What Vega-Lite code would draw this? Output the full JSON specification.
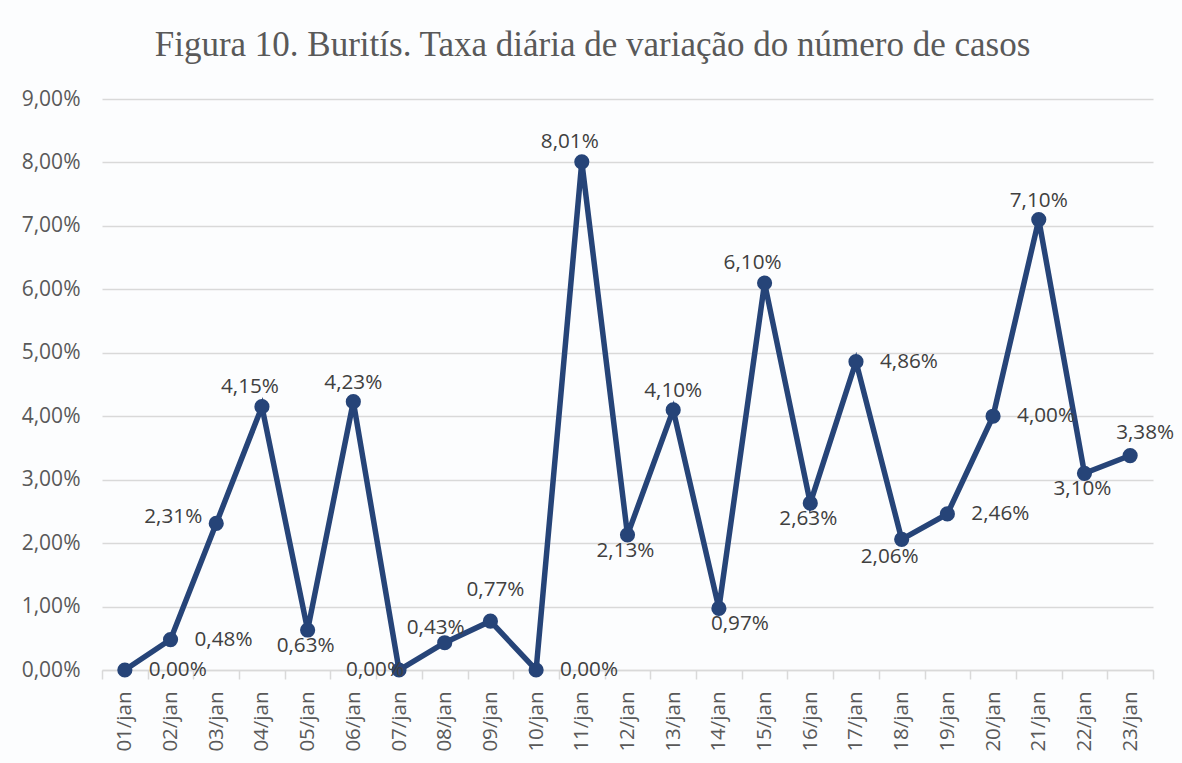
{
  "$schema": "https://vega.github.io/schema/vega-lite/v6.json",
  "width": 1051,
  "height": 571,
  "autosize": "none",
  "padding": {"left": 102, "top": 99, "right": 29, "bottom": 93},
  "background": "#fcfdfe",
  "config": {
    "locale": {"number": {"decimal": ",", "thousands": ".", "grouping": [3], "currency": ["R$", ""]}},
    "view": {"stroke": null},
    "font": "Open Sans"
  },
  "title": {
    "text": "Figura 10. Buritís. Taxa diária de variação do número de casos",
    "font": "Liberation Serif",
    "fontSize": 35,
    "fontWeight": "normal",
    "color": "#595959",
    "anchor": "middle",
    "dx": -35,
    "offset": 25
  },
  "data": {
    "values": [
      {"d": "01/jan", "v": 0.0},
      {"d": "02/jan", "v": 0.0048},
      {"d": "03/jan", "v": 0.0231},
      {"d": "04/jan", "v": 0.0415},
      {"d": "05/jan", "v": 0.0063},
      {"d": "06/jan", "v": 0.0423},
      {"d": "07/jan", "v": 0.0},
      {"d": "08/jan", "v": 0.0043},
      {"d": "09/jan", "v": 0.0077},
      {"d": "10/jan", "v": 0.0},
      {"d": "11/jan", "v": 0.0801},
      {"d": "12/jan", "v": 0.0213},
      {"d": "13/jan", "v": 0.041},
      {"d": "14/jan", "v": 0.0097},
      {"d": "15/jan", "v": 0.061},
      {"d": "16/jan", "v": 0.0263},
      {"d": "17/jan", "v": 0.0486},
      {"d": "18/jan", "v": 0.0206},
      {"d": "19/jan", "v": 0.0246},
      {"d": "20/jan", "v": 0.04},
      {"d": "21/jan", "v": 0.071},
      {"d": "22/jan", "v": 0.031},
      {"d": "23/jan", "v": 0.0338}
    ]
  },
  "encoding": {
    "x": {
      "field": "d", "type": "ordinal", "sort": null,
      "scale": {"type": "band", "paddingInner": 0, "paddingOuter": 0},
      "axis": {
        "title": null, "labelAngle": -90, "labelFontSize": 20.5, "labelColor": "#595959",
        "labelFont": "Open Sans", "labelPadding": 12,
        "domainColor": "#d9d9d9", "domainWidth": 1.5, "tickColor": "#d9d9d9", "tickWidth": 1.5, "tickSize": 9,
        "tickBand": "extent", "grid": false
      }
    },
    "y": {
      "field": "v", "type": "quantitative",
      "scale": {"domain": [0, 0.09]},
      "axis": {
        "title": null, "format": ".2%", "values": [0, 0.01, 0.02, 0.03, 0.04, 0.05, 0.06, 0.07, 0.08, 0.09],
        "labelFontSize": 21, "labelColor": "#595959", "labelFont": "Open Sans", "labelPadding": 22,
        "domain": false, "ticks": false, "gridColor": "#d9d9d9", "gridWidth": 1.5
      }
    }
  },
  "layer": [
    {"mark": {"type": "line", "color": "#264478", "strokeWidth": 5.5}},
    {"mark": {"type": "circle", "color": "#264478", "opacity": 1, "size": 230}},
    {
      "transform": [{"filter": {"field": "d", "oneOf": ["06/jan", "13/jan", "21/jan"]}}],
      "mark": {"type": "text", "fontSize": 20.7, "color": "#404040", "dy": -19, "baseline": "middle"},
      "encoding": {"text": {"field": "v", "format": ".2%"}}
    },
    {
      "transform": [{"filter": {"field": "d", "oneOf": ["04/jan", "15/jan", "11/jan"]}}],
      "mark": {"type": "text", "fontSize": 20.7, "color": "#404040", "dy": -20, "dx": -12, "baseline": "middle"},
      "encoding": {"text": {"field": "v", "format": ".2%"}}
    },
    {
      "transform": [{"filter": {"field": "d", "equal": "09/jan"}}],
      "mark": {"type": "text", "fontSize": 20.7, "color": "#404040", "dy": -31, "dx": 5, "baseline": "middle"},
      "encoding": {"text": {"field": "v", "format": ".2%"}}
    },
    {
      "transform": [{"filter": {"field": "d", "equal": "08/jan"}}],
      "mark": {"type": "text", "fontSize": 20.7, "color": "#404040", "dy": -15, "dx": -9, "baseline": "middle"},
      "encoding": {"text": {"field": "v", "format": ".2%"}}
    },
    {
      "transform": [{"filter": {"field": "d", "equal": "23/jan"}}],
      "mark": {"type": "text", "fontSize": 20.7, "color": "#404040", "dy": -23, "dx": 15, "baseline": "middle"},
      "encoding": {"text": {"field": "v", "format": ".2%"}}
    },
    {
      "transform": [{"filter": {"field": "d", "oneOf": ["05/jan", "12/jan", "16/jan", "22/jan"]}}],
      "mark": {"type": "text", "fontSize": 20.7, "color": "#404040", "dy": 16, "dx": -2, "baseline": "middle"},
      "encoding": {"text": {"field": "v", "format": ".2%"}}
    },
    {
      "transform": [{"filter": {"field": "d", "equal": "14/jan"}}],
      "mark": {"type": "text", "fontSize": 20.7, "color": "#404040", "dy": 16, "dx": 21, "baseline": "middle"},
      "encoding": {"text": {"field": "v", "format": ".2%"}}
    },
    {
      "transform": [{"filter": {"field": "d", "equal": "18/jan"}}],
      "mark": {"type": "text", "fontSize": 20.7, "color": "#404040", "dy": 18, "dx": -12, "baseline": "middle"},
      "encoding": {"text": {"field": "v", "format": ".2%"}}
    },
    {
      "transform": [{"filter": {"field": "d", "oneOf": ["01/jan", "02/jan", "10/jan", "17/jan", "19/jan", "20/jan"]}}],
      "mark": {"type": "text", "fontSize": 20.7, "color": "#404040", "dx": 24, "align": "left", "baseline": "middle"},
      "encoding": {"text": {"field": "v", "format": ".2%"}}
    },
    {
      "transform": [{"filter": {"field": "d", "equal": "03/jan"}}],
      "mark": {"type": "text", "fontSize": 20.7, "color": "#404040", "dx": -14, "dy": -6, "align": "right", "baseline": "middle"},
      "encoding": {"text": {"field": "v", "format": ".2%"}}
    },
    {
      "transform": [{"filter": {"field": "d", "equal": "07/jan"}}],
      "mark": {"type": "text", "fontSize": 20.7, "color": "#404040", "dx": 5, "align": "right", "baseline": "middle"},
      "encoding": {"text": {"field": "v", "format": ".2%"}}
    }
  ]
}
